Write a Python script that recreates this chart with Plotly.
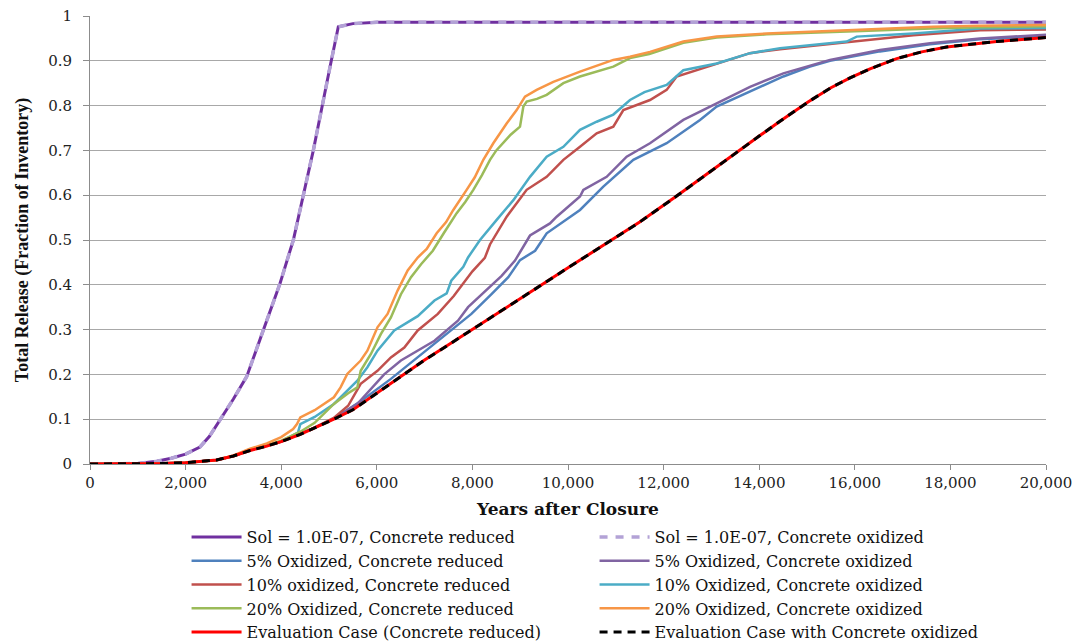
import plotly.graph_objects as go

# Cumulative total release (fraction of inventory) vs. years after closure

years_sol = [0, 500, 1000, 1400, 1700, 2000, 2300, 2500, 2720, 3000, 3278, 3626, 3975,
             4254, 4672, 5021, 5195, 5500, 6000, 20000]
rel_sol = [0, 0, 0.001, 0.006, 0.013, 0.022, 0.038, 0.062, 0.098, 0.145, 0.195, 0.299, 0.403,
           0.500, 0.700, 0.886, 0.976, 0.983, 0.986, 0.986]

years_5red = [0, 1000, 2000, 2650, 3000, 3347, 4000, 4700, 5100, 5700, 6295, 6856, 7558, 7979,
              8400, 8751, 8996, 9312, 9554, 10251, 10739, 11367, 12064, 12762, 13110, 13808,
              14505, 15063, 15481, 16527, 17573, 18619, 20000]
rel_5red = [0, 0, 0.003, 0.009, 0.018, 0.031, 0.050, 0.081, 0.101, 0.143, 0.190, 0.238, 0.298,
            0.335, 0.379, 0.417, 0.455, 0.476, 0.515, 0.567, 0.619, 0.679, 0.716, 0.768, 0.798,
            0.831, 0.865, 0.887, 0.900, 0.921, 0.937, 0.948, 0.955]

years_5ox = [0, 1000, 2000, 2650, 3000, 3347, 4000, 4700, 5100, 5600, 6154, 6505, 7207, 7698,
             7909, 8159, 8260, 8611, 8891, 9205, 9623, 9763, 10251, 10321, 10809, 11227, 11715,
             12413, 13110, 13808, 14505, 15063, 15481, 16527, 17573, 18619, 20000]
rel_5ox = [0, 0, 0.003, 0.009, 0.018, 0.031, 0.050, 0.081, 0.101, 0.135, 0.200, 0.231, 0.275,
           0.320, 0.350, 0.375, 0.385, 0.420, 0.454, 0.510, 0.537, 0.552, 0.597, 0.612, 0.641,
           0.686, 0.716, 0.768, 0.805, 0.842, 0.872, 0.890, 0.902, 0.924, 0.939, 0.950, 0.958]

years_10red = [0, 1000, 2000, 2650, 3000, 3347, 4000, 4700, 5100, 5400, 5663, 6014, 6295, 6576,
               6856, 7044, 7277, 7610, 8000, 8260, 8368, 8717, 9135, 9554, 9903, 10251, 10600,
               10948, 11158, 11715, 12064, 12273, 13110, 13808, 14435, 15063, 16039, 17224,
               18619, 20000]
rel_10red = [0, 0, 0.003, 0.009, 0.018, 0.031, 0.050, 0.081, 0.103, 0.130, 0.179, 0.208, 0.238,
             0.260, 0.298, 0.315, 0.335, 0.375, 0.430, 0.460, 0.490, 0.552, 0.612, 0.641, 0.679,
             0.708, 0.738, 0.753, 0.790, 0.8125, 0.835, 0.865, 0.894, 0.917, 0.926, 0.933,
             0.945, 0.957, 0.968, 0.970]

years_10ox = [0, 1000, 2000, 2650, 3000, 3347, 4000, 4350, 4400, 4700, 5102, 5593, 5803, 6014,
              6365, 6856, 7207, 7462, 7558, 7810, 7909, 8159, 8508, 8857, 9205, 9554, 9903,
              10251, 10600, 10948, 11297, 11600, 12064, 12413, 13110, 13808, 14435, 15063,
              15830, 16039, 17224, 18619, 20000]
rel_10ox = [0, 0, 0.003, 0.009, 0.018, 0.031, 0.050, 0.070, 0.089, 0.105, 0.134, 0.186, 0.216,
            0.253, 0.298, 0.330, 0.365, 0.381, 0.409, 0.440, 0.461, 0.500, 0.545, 0.589, 0.641,
            0.686, 0.708, 0.746, 0.764, 0.780, 0.8125, 0.830, 0.846, 0.879, 0.894, 0.917,
            0.928, 0.935, 0.943, 0.954, 0.961, 0.972, 0.973]

years_20red = [0, 1000, 2000, 2650, 3000, 3347, 4000, 4400, 4700, 5102, 5400, 5593, 5663, 5874,
               6084, 6295, 6505, 6716, 6926, 7172, 7400, 7671, 7850, 8019, 8200, 8368, 8500,
               8647, 8800, 8996, 9066, 9136, 9350, 9554, 9903, 10251, 10948, 11297, 11700,
               12413, 13110, 14156, 15063, 16000, 17600, 18600, 20000]
rel_20red = [0, 0, 0.003, 0.009, 0.018, 0.031, 0.052, 0.072, 0.092, 0.134, 0.158, 0.171, 0.208,
             0.245, 0.290, 0.327, 0.379, 0.417, 0.446, 0.476, 0.515, 0.560, 0.585, 0.612, 0.645,
             0.679, 0.700, 0.716, 0.735, 0.753, 0.798, 0.809, 0.815, 0.824, 0.850, 0.865,
             0.887, 0.906, 0.915, 0.940, 0.952, 0.959, 0.963, 0.966, 0.972, 0.975, 0.977]

years_20ox = [0, 1000, 2000, 2650, 3000, 3347, 3700, 4000, 4250, 4330, 4400, 4700, 5102, 5242,
              5382, 5663, 5803, 6014, 6225, 6435, 6646, 6856, 7044, 7252, 7450, 7600, 7879,
              8050, 8228, 8437, 8716, 8926, 9100, 9344, 9693, 10251, 10948, 11297, 11715,
              12413, 13110, 14156, 15063, 15900, 16800, 17636, 18600, 20000]
rel_20ox = [0, 0, 0.003, 0.009, 0.019, 0.034, 0.046, 0.060, 0.078, 0.089, 0.104, 0.120, 0.149,
            0.171, 0.201, 0.231, 0.253, 0.305, 0.335, 0.387, 0.432, 0.461, 0.480, 0.515, 0.540,
            0.567, 0.612, 0.640, 0.679, 0.716, 0.760, 0.790, 0.820, 0.835, 0.853, 0.876,
            0.902, 0.909, 0.920, 0.943, 0.954, 0.961, 0.965, 0.969, 0.972, 0.976, 0.978, 0.980]

years_eval = [0, 1000, 1500, 2000, 2300, 2650, 3000, 3347, 3700, 4000, 4400, 4700, 5100, 5500,
              6000, 6500, 7000, 7500, 8000, 8500, 9000, 9450, 10000, 10983, 11500, 12273, 13000,
              13528, 14000, 14435, 15021, 15500, 15900, 16318, 16876, 17400, 17922, 18968, 20000]
rel_eval = [0, 0, 0.001, 0.003, 0.005, 0.009, 0.018, 0.030, 0.040, 0.050, 0.066, 0.080, 0.100,
            0.121, 0.158, 0.197, 0.232, 0.266, 0.300, 0.335, 0.369, 0.400, 0.438, 0.504, 0.540,
            0.598, 0.655, 0.697, 0.732, 0.765, 0.808, 0.840, 0.862, 0.882, 0.905, 0.920, 0.931,
            0.943, 0.952]

x_ticks = list(range(0, 20001, 2000))

series = [
    ("Sol = 1.0E-07, Concrete reduced", years_sol, rel_sol, "#7030A0", 3, "solid"),
    ("Sol = 1.0E-07, Concrete oxidized", years_sol, rel_sol, "#B3A2D6", 3.5, "8px,8px"),
    ("5% Oxidized, Concrete reduced", years_5red, rel_5red, "#4F81BD", 2.5, "solid"),
    ("5% Oxidized, Concrete oxidized", years_5ox, rel_5ox, "#8064A2", 2.5, "solid"),
    ("10% oxidized, Concrete reduced", years_10red, rel_10red, "#C0504D", 2.5, "solid"),
    ("10% Oxidized, Concrete oxidized", years_10ox, rel_10ox, "#4BACC6", 2.5, "solid"),
    ("20% Oxidized, Concrete reduced", years_20red, rel_20red, "#9BBB59", 2.5, "solid"),
    ("20% Oxidized, Concrete oxidized", years_20ox, rel_20ox, "#F79646", 2.5, "solid"),
    ("Evaluation Case (Concrete reduced)", years_eval, rel_eval, "#FF0000", 3, "solid"),
    ("Evaluation Case with Concrete oxidized", years_eval, rel_eval, "#000000", 3, "8px,6px"),
]

fig = go.Figure()
for name, xs, ys, color, width, dash in series:
    fig.add_trace(go.Scatter(
        x=xs, y=ys, name=name, mode="lines",
        line=dict(color=color, width=width, dash=dash),
    ))

serif = "DejaVu Serif"
fig.update_layout(
    width=1075, height=644,
    margin=dict(l=90, r=29, t=16, b=180, autoexpand=False),
    paper_bgcolor="white", plot_bgcolor="white",
    font=dict(family=serif, size=15, color="#222222"),
    showlegend=True,
    legend=dict(
        orientation="h",
        x=0.101, xanchor="left",
        y=-0.125, yanchor="top",
        entrywidth=343, entrywidthmode="pixels",
        itemwidth=50,
        font=dict(family=serif, size=16, color="#111111"),
        traceorder="normal",
        bgcolor="rgba(0,0,0,0)",
    ),
    xaxis=dict(
        range=[0, 20000],
        tickvals=x_ticks, tickformat=",",
        showgrid=False, zeroline=False,
        showline=True, linecolor="#8C8C8C", linewidth=1,
        ticks="outside", ticklen=5, tickcolor="#8C8C8C",
        tickfont=dict(family=serif, size=15, color="#222222"),
        automargin=False,
        title=dict(text="<b>Years after Closure</b>", standoff=12,
                   font=dict(family=serif, size=17, color="#111111")),
    ),
    yaxis=dict(
        range=[0, 1], dtick=0.1,
        showgrid=True, gridcolor="#A8A8A8", gridwidth=1,
        zeroline=False,
        showline=True, linecolor="#8C8C8C", linewidth=1,
        ticks="outside", ticklen=6, tickcolor="#8C8C8C",
        ticklabelstandoff=8,
        tickfont=dict(family=serif, size=15, color="#222222"),
        automargin=False,
        title=dict(text="<b>Total Release (Fraction of Inventory)</b>", standoff=14,
                   font=dict(family="Liberation Serif", size=18, color="#111111")),
    ),
)

fig.write_html("out.html")
